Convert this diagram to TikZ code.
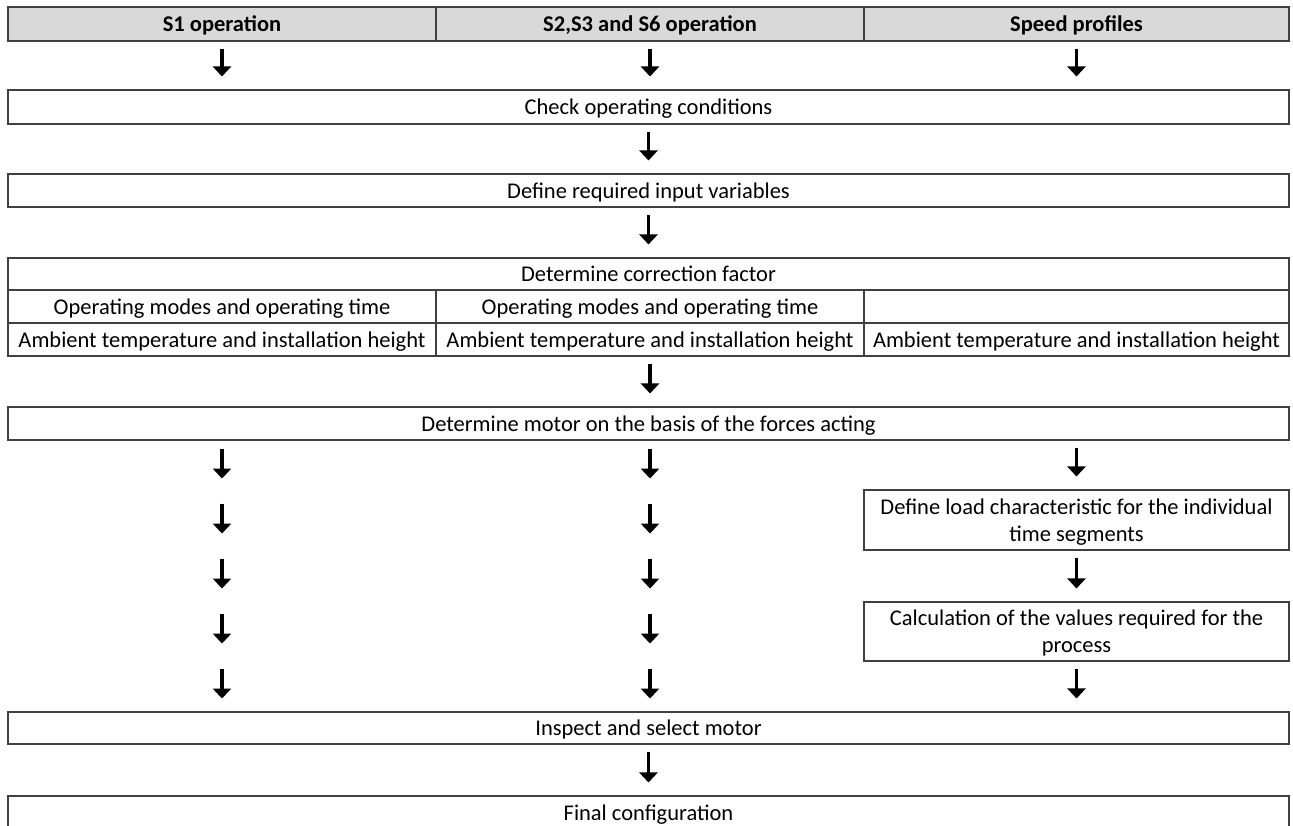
\documentclass[tikz,border=0pt]{standalone}
\usepackage{fontspec}
\setmainfont{Carlito}
\usetikzlibrary{arrows.meta,calc}

\def\pu{0.02cm}

\begin{document}
\begin{tikzpicture}[x=0.02cm,y=-0.02cm,
	cell/.style={draw=black!75,line width=0.6pt,inner sep=0pt,align=center,text depth=0pt,
		font=\fontsize{12.8}{15.4}\selectfont,minimum height=33*\pu},
	headcell/.style={cell,fill=black!15,font=\fontsize{12.8}{15.4}\selectfont\bfseries,minimum height=34*\pu},
	flow/.style={-{Triangle[width=0.36cm,length=0.2cm]},line width=0.07cm,
		shorten <=0.14cm,shorten >=0.26cm}]
	\useasboundingbox (0,0) rectangle (1293,825);
	\clip (0,0) rectangle (1293,825);
	% header row
	\node[headcell,minimum width=428*\pu] (s1) at (222,24) {S1 operation};
	\node[headcell,minimum width=428*\pu] (s2) at (650,24) {S2,S3 and S6 operation};
	\node[headcell,minimum width=425*\pu] (sp) at (1076.5,24) {Speed profiles};
	% common steps
	\node[cell,minimum width=1281*\pu,minimum height=34*\pu] (check) at (648.5,107) {Check operating conditions};
	\node[cell,minimum width=1281*\pu] (inputs) at (648.5,190.5) {Define required input variables};
	\node[cell,minimum width=1281*\pu,minimum height=32*\pu] (corr) at (648.5,274) {Determine correction factor};
	\node[cell,minimum width=428*\pu] (modeA) at (222,306.5) {Operating modes and operating time};
	\node[cell,minimum width=428*\pu] (modeB) at (650,306.5) {Operating modes and operating time};
	\node[cell,minimum width=425*\pu] (modeC) at (1076.5,306.5) {};
	\node[cell,minimum width=428*\pu] (ambA) at (222,339.5) {Ambient temperature and installation height};
	\node[cell,minimum width=428*\pu] (ambB) at (650,339.5) {Ambient temperature and installation height};
	\node[cell,minimum width=425*\pu] (ambC) at (1076.5,339.5) {Ambient temperature and installation height};
	\node[cell,minimum width=1281*\pu] (motor) at (648.5,423.5) {Determine motor on the basis of the forces acting};
	% speed profiles only
	\node[cell,minimum width=425*\pu,minimum height=60*\pu] (load) at (1076.5,520) {Define load characteristic for the individual\\time segments};
	\node[cell,minimum width=425*\pu,minimum height=59*\pu] (calc) at (1076.5,631.5) {Calculation of the values required for the\\process};
	\node[cell,minimum width=1281*\pu,minimum height=32*\pu] (inspect) at (648.5,728) {Inspect and select motor};
	\node[cell,minimum width=1281*\pu] (final) at (648.5,812.5) {Final configuration};
	% arrows
	\foreach \h in {s1,s2,sp}
		\draw[flow] (\h) -- (\h |- check.north);
	\draw[flow] (check) -- (inputs);
	\draw[flow] (inputs) -- (inputs |- corr.north);
	\draw[flow] (ambB) -- (ambB |- motor.north);
	\foreach \h in {s1,s2}
		\foreach \k in {0,...,4}
			\draw[flow,shorten <=0pt,shorten >=0pt] ($(motor.south -| \h)+(0,8+55*\k)$) -- ++(0,30);
	\draw[flow] (motor.south -| load) -- (load);
	\draw[flow] (load) -- (calc);
	\draw[flow] (calc) -- (calc |- inspect.north);
	\draw[flow] (inspect) -- (final);
\end{tikzpicture}
\end{document}
